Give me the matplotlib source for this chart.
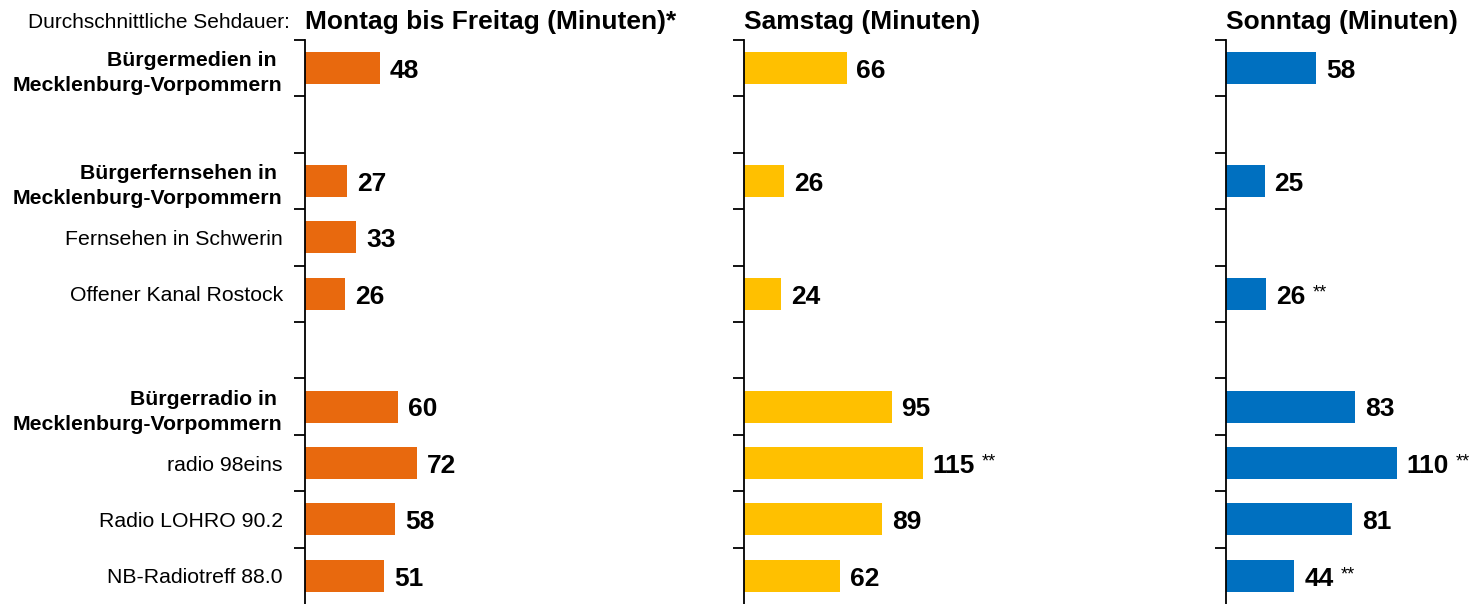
import matplotlib
matplotlib.use("Agg")
import matplotlib.pyplot as plt
import numpy as np

plt.rcParams["font.family"] = ["Liberation Sans", "DejaVu Sans"]

# Daten
kategorien = [
    "Bürgermedien in \nMecklenburg-Vorpommern",
    "",
    "Bürgerfernsehen in \nMecklenburg-Vorpommern",
    "Fernsehen in Schwerin",
    "Offener Kanal Rostock",
    "",
    "Bürgerradio in \nMecklenburg-Vorpommern",
    "radio 98eins",
    "Radio LOHRO 90.2",
    "NB-Radiotreff 88.0",
]
fett = [True, False, True, False, False, False, True, False, False, False]

mo_fr = [48, None, 27, 33, 26, None, 60, 72, 58, 51]
samstag = [66, None, 26, None, 24, None, 95, 115, 89, 62]
sonntag = [58, None, 25, None, 26, None, 83, 110, 81, 44]

mo_fr_fn = [False] * 10
samstag_fn = [False, False, False, False, False, False, False, True, False, False]
sonntag_fn = [False, False, False, False, True, False, False, True, False, True]

titel = ["Montag bis Freitag (Minuten)*", "Samstag (Minuten)", "Sonntag (Minuten)"]
farben = ["#E8690E", "#FFC000", "#0070C0"]

W, H = 1472, 604
fig = plt.figure(figsize=(W / 100, H / 100), dpi=100)

axis_x = [305, 744, 1226]   # Pixelposition der Achsen
ax_w = 240                  # Pixel
px_per_min = 1.555
top, bottom = 40, 604

n = len(kategorien)
zeilen = np.arange(n) + 0.5

serien = [(mo_fr, mo_fr_fn), (samstag, samstag_fn), (sonntag, sonntag_fn)]

for i, (werte, fns) in enumerate(serien):
    ax = fig.add_axes([axis_x[i] / W, 1 - bottom / H, ax_w / W, (bottom - top) / H])
    ax.set_xlim(0, ax_w / px_per_min)
    ax.set_ylim(n, 0)
    for s in ["top", "right", "bottom"]:
        ax.spines[s].set_visible(False)
    ax.spines["left"].set_linewidth(1.3)
    ax.set_xticks([])
    ax.set_yticks(np.arange(n))
    ax.set_yticklabels([])
    ax.tick_params(axis="y", which="major", length=8, width=1.3, direction="out")

    if i == 0:
        ax.set_yticks(zeilen, minor=True)
        ax.set_yticklabels(kategorien, minor=True)
        ax.tick_params(axis="y", which="minor", length=0, pad=16, labelsize=15.3)
        for lab, b in zip(ax.get_yticklabels(minor=True), fett):
            lab.set_fontweight("bold" if b else "normal")
            lab.set_multialignment("right")
            lab.set_linespacing(1.4)

    for y, v, fn in zip(zeilen, werte, fns):
        if v is None:
            continue
        ax.barh(y, v, height=0.57, color=farben[i])
        t = ax.annotate(str(v), xy=(v, y), xytext=(7, -2), textcoords="offset points",
                        ha="left", va="center", fontsize=19, fontweight="bold")
        if fn:
            ax.annotate("**", xy=(1, 1), xycoords=t, xytext=(5, 0),
                        textcoords="offset points", ha="left", va="top", fontsize=13)

    fig.text(axis_x[i] / W, 1 - 22 / H, titel[i], ha="left", va="center",
             fontsize=19, fontweight="bold")

fig.text(290 / W, 1 - 23 / H, "Durchschnittliche Sehdauer:", ha="right", va="center",
         fontsize=15)

fig.savefig("out.png", dpi=100)
